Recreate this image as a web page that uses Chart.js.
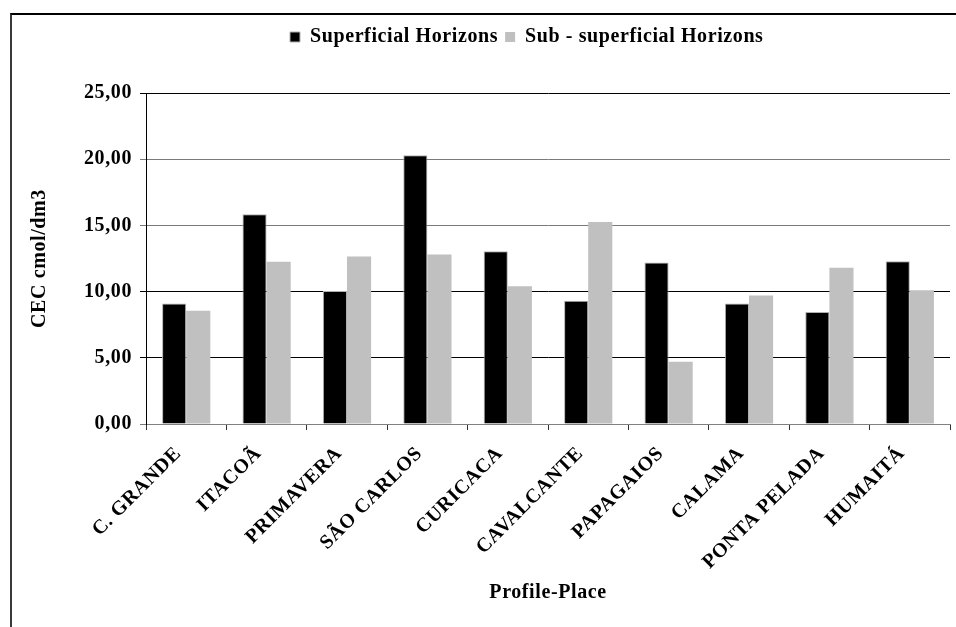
<!DOCTYPE html>
<html><head><meta charset="utf-8">
<script src="https://cdn.jsdelivr.net/npm/chart.js@4.4.1/dist/chart.umd.min.js"></script>
<style>
html,body{margin:0;padding:0;background:#fff;overflow:hidden;width:956px;height:627px;}
#frame{position:absolute;left:10px;top:13px;width:944px;height:612px;border-top:2px solid #000;border-left:2px solid #3a3a3a;}
canvas{display:block;}
</style></head><body>
<div id="frame"><canvas id="c" width="944" height="612"></canvas></div>
<script>
const categories = ['C. GRANDE','ITACOÃ','PRIMAVERA','SÃO CARLOS','CURICACA','CAVALCANTE','PAPAGAIOS','CALAMA','PONTA PELADA','HUMAITÁ'];
const superficial = [9.1, 15.85, 10.05, 20.3, 13.05, 9.3, 12.2, 9.1, 8.45, 12.3];
const subSuperficial = [8.55, 12.25, 12.65, 12.8, 10.4, 15.25, 4.7, 9.7, 11.8, 10.1];
const seriesNames = ['Superficial Horizons', 'Sub - superficial Horizons'];
const yTickLabels = ['0,00', '5,00', '10,00', '15,00', '20,00', '25,00'];
const xTitle = 'Profile-Place';
const yTitle = 'CEC cmol/dm3';

const FONT = "'Liberation Serif', 'Times New Roman', serif";
const F = {family: FONT, size: 20, weight: 'bold'};
Chart.defaults.font = F;
Chart.defaults.color = '#000';

const SPACING = '0.6px';
const helper = {
  id: 'helper',
  beforeUpdate(c){ c.ctx.letterSpacing = SPACING; },
  beforeLayout(c){ c.ctx.letterSpacing = SPACING; },
  beforeDraw(c){ c.ctx.letterSpacing = SPACING; },
  afterLayout(c){
    const lg = c.legend;
    if (!lg) return;
    const h = lg.height, w = lg.right - lg.left;
    lg.top = 5; lg.bottom = 5 + h;
    lg.left = 271; lg.right = 271 + w;
  }
};

new Chart(document.getElementById('c'), {
  type: 'bar',
  data: {
    labels: categories,
    datasets: [
      {label: seriesNames[0], data: superficial, backgroundColor: '#000', borderColor: '#b0b0b0', borderWidth: 1},
      {label: seriesNames[1], data: subSuperficial, backgroundColor: '#c0c0c0', borderColor: '#c0c0c0', borderWidth: 0}
    ]
  },
  options: {
    responsive: false,
    animation: false,
    events: [],
    categoryPercentage: 0.6,
    barPercentage: 1.0,
    layout: {padding: {top: 41, right: 6, bottom: 0, left: 0}},
    plugins: {
      legend: {
        position: 'top',
        align: 'start',
        labels: {boxWidth: 10, boxHeight: 10, padding: 7, font: F, color: '#000'}
      },
      tooltip: {enabled: false}
    },
    scales: {
      x: {
        afterFit(s){ s.height = 203; },
        grid: {drawOnChartArea: false, drawTicks: true, tickLength: 6, color: '#333', offset: true},
        border: {color: '#808080', width: 1},
        ticks: {minRotation: 45, maxRotation: 45, autoSkip: false, padding: 12, labelOffset: -8, color: '#000', font: F},
        title: {display: true, text: xTitle, padding: {top: 0, bottom: 22}, font: F, color: '#000'}
      },
      y: {
        min: 0, max: 25,
        afterFit(s){ s.width = 134; },
        grid: {
          color: (ctx) => { const v = ctx.tick ? ctx.tick.value : null; return (v === 15 || v === 20 || v === 0) ? '#7a7a7a' : '#000'; },
          tickLength: 6, drawTicks: true
        },
        border: {color: '#000', width: 1},
        ticks: {stepSize: 5, padding: 8, color: '#000', callback: (v, i) => yTickLabels[i], font: F},
        title: {display: true, text: yTitle, padding: {top: 16, bottom: 0}, font: F, color: '#000'}
      }
    }
  },
  plugins: [helper]
});
</script>
</body></html>
